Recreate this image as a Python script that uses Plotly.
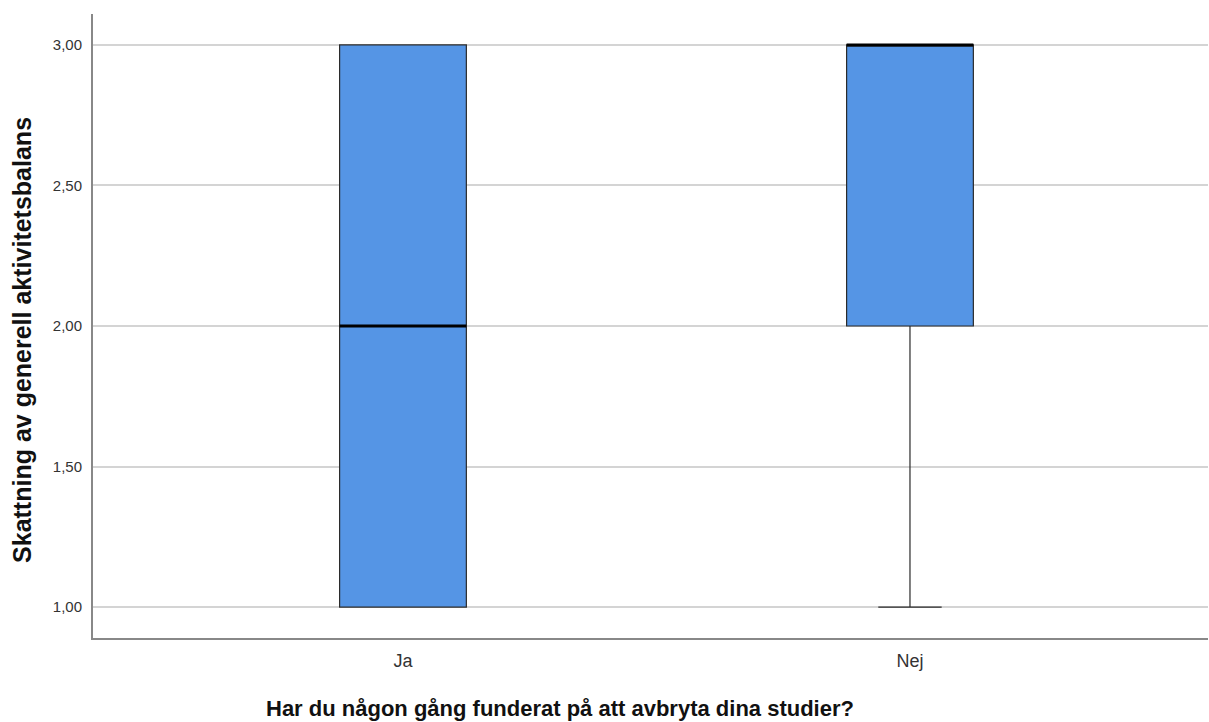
import plotly.graph_objects as go

# Group labels and five-number summaries
groups = ["Ja", "Nej"]
positions = [0, 1]
lower_fence = [1.0, 1.0]
q1 = [1.0, 2.0]
median = [2.0, 3.0]
q3 = [3.0, 3.0]
upper_fence = [3.0, 3.0]

y_ticks = [1.0, 1.5, 2.0, 2.5, 3.0]
y_ticktext = ["1,00", "1,50", "2,00", "2,50", "3,00"]

x_title = "Har du någon gång funderat på att avbryta dina studier?"
y_title = "Skattning av generell aktivitetsbalans"

box_width = 0.25
fill = "#5595e5"
edge = "#2b2b2b"
font = "Liberation Sans, Arial, sans-serif"

fig = go.Figure()

fig.add_trace(go.Box(
    x=positions,
    q1=q1,
    median=median,
    q3=q3,
    lowerfence=lower_fence,
    upperfence=upper_fence,
    width=box_width,
    whiskerwidth=0.5,
    fillcolor=fill,
    line=dict(color=edge, width=1.2),
    boxpoints=False,
    showlegend=False,
    hoverinfo="skip",
))

# Heavier median strokes across each box
for p, m in zip(positions, median):
    fig.add_trace(go.Scatter(
        x=[p - box_width / 2, p + box_width / 2],
        y=[m, m],
        mode="lines",
        line=dict(color="#000000", width=3),
        showlegend=False,
        hoverinfo="skip",
    ))

fig.update_layout(
    width=1209,
    height=722,
    margin=dict(l=93, r=1, t=14, b=84),
    paper_bgcolor="white",
    plot_bgcolor="white",
    font=dict(family=font, color="#222222"),
    xaxis=dict(
        range=[-0.6114, 1.5878],
        tickvals=positions,
        ticktext=groups,
        tickfont=dict(size=18, color="#333333"),
        showgrid=False,
        zeroline=False,
        showline=True,
        linecolor="#888888",
        linewidth=2,
        ticks="",
        ticklabelstandoff=5,
        automargin=False,
    ),
    yaxis=dict(
        range=[0.89, 3.11],
        tickvals=y_ticks,
        ticktext=y_ticktext,
        tickfont=dict(size=15, color="#333333"),
        showgrid=True,
        gridcolor="#d4d4d4",
        gridwidth=1.5,
        zeroline=False,
        showline=True,
        linecolor="#888888",
        linewidth=2,
        ticks="",
        ticklabelstandoff=6,
        automargin=False,
    ),
    annotations=[
        dict(
            text=f"<b>{x_title}</b>",
            xref="paper", yref="paper",
            x=0.4188, y=-0.1122,
            xanchor="center", yanchor="middle",
            showarrow=False,
            font=dict(size=22, color="#111111"),
        ),
        dict(
            text=f"<b>{y_title}</b>",
            xref="paper", yref="paper",
            x=-0.0637, y=0.4776,
            xanchor="center", yanchor="middle",
            textangle=-90,
            showarrow=False,
            font=dict(size=25, color="#111111"),
        ),
    ],
)

fig.write_html("out.html")
